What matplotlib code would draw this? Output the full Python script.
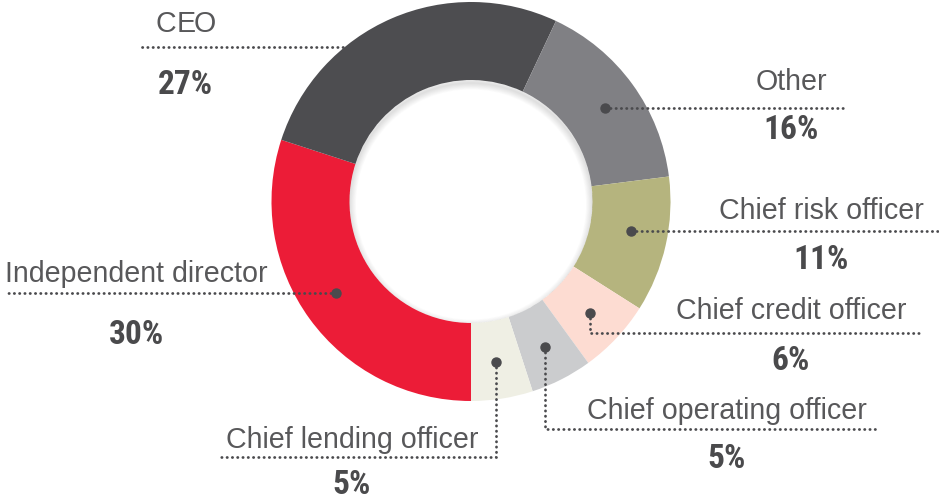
import matplotlib
matplotlib.use('Agg')
import matplotlib.pyplot as plt
from matplotlib import font_manager
from matplotlib.patches import Circle
import numpy as np

# donnees du graphique
categorias = ['Independent director', 'CEO', 'Other', 'Chief risk officer',
              'Chief credit officer', 'Chief operating officer', 'Chief lending officer']
valores = [30, 27, 16, 11, 6, 5, 5]
rotulos_pct = ['30%', '27%', '16%', '11%', '6%', '5%', '5%']
cores = ['#EC1C37', '#4D4D50', '#808084', '#B5B47E', '#FDDCD2', '#CBCCCE', '#EFEFE4']

# escolher fontes disponiveis
nomes = set(f.name for f in font_manager.fontManager.ttflist)
fonte_txt = 'Liberation Sans' if 'Liberation Sans' in nomes else 'DejaVu Sans'
fonte_pct = None
for f in ['Liberation Sans Narrow', 'Roboto Condensed', 'DejaVu Sans Condensed']:
    if f in nomes:
        fonte_pct = f
        break
if fonte_pct is None:
    fonte_pct = fonte_txt
    tam_pct = 20
else:
    tam_pct = 24

W, H = 939, 502
fig = plt.figure(figsize=(W / 100, H / 100), dpi=100)
ax = fig.add_axes([0, 0, 1, 1])

cx, cy = 471, 202.5
r_ext, r_int = 199.5, 121.5
wedges, _ = ax.pie(valores, colors=cores, startangle=90, counterclock=True,
                   radius=r_ext, center=(cx, cy),
                   wedgeprops=dict(width=r_ext - r_int, linewidth=0))

# sombra interna leve
buraco = Circle((cx, cy), r_int, transform=ax.transData, facecolor='none', edgecolor='none')
ax.add_patch(buraco)
for k in range(8):
    sombra = Circle((cx, cy + 3), r_int, facecolor='none', edgecolor='#000000',
                    linewidth=1 + k * 1.2, alpha=0.015)
    ax.add_patch(sombra)
    sombra.set_clip_path(buraco)

ax.set_xlim(0, W)
ax.set_ylim(H, 0)
ax.set_aspect('auto')
ax.axis('off')

cor_linha = '#4A4A4D'
cor_txt = '#58585A'
cor_pct = '#4A4A4C'


def pontilhado(xs, ys):
    ax.plot(xs, ys, color=cor_linha, linewidth=2.0, zorder=5,
            linestyle=(0, (0.1, 1.8)), dash_capstyle='round')


def ponto(i, r=163, desvio=0):
    w = wedges[i]
    ang = np.radians((w.theta1 + w.theta2) / 2 + desvio)
    return cx + r * np.cos(ang), cy + r * np.sin(ang)


# (indice, tipo, fim x, y horizontal, desvio angular)
guias = [
    (0, 'h', 5, None, 2),
    (2, 'h', 845, None, 1),
    (3, 'h', 939, None, -2),
    (4, 'v', 921, 334, 0),
    (5, 'v', 879, 430, 0),
    (6, 'v', 217, 458, 0),
]
for i, tipo, xf, yh, d in guias:
    px, py = ponto(i, desvio=d)
    if tipo == 'h':
        pontilhado([px, xf], [py, py])
    else:
        pontilhado([px, px, xf], [py, yh, yh])
    ax.plot(px, py, 'o', color=cor_linha, markersize=6.5, zorder=6)

# linha do CEO
pontilhado([142, 343], [48, 48])

# textos: (indice, x centro, baseline rotulo, baseline pct)
textos = [
    (0, 136, 282, 344),
    (2, 791, 90, 139),
    (3, 821, 219, 269),
    (4, 791, 319, 370),
    (5, 727, 419, 468),
    (6, 352, 448, 494),
]
for i, x, yb, yp in textos:
    ax.text(x, yb, categorias[i], ha='center', va='baseline', fontsize=20.6,
            family=fonte_txt, color=cor_txt)
    ax.text(x, yp, rotulos_pct[i], ha='center', va='baseline', fontsize=tam_pct,
            family=fonte_pct, fontweight='bold', color=cor_pct)

# CEO com letras espacadas
for letra, x in zip('CEO', [166, 186, 205]):
    ax.text(x, 32, letra, ha='center', va='baseline', fontsize=20.6,
            family=fonte_txt, color=cor_txt)
ax.text(185, 94, rotulos_pct[1], ha='center', va='baseline', fontsize=tam_pct,
        family=fonte_pct, fontweight='bold', color=cor_pct)

fig.savefig('out.png', dpi=100)
